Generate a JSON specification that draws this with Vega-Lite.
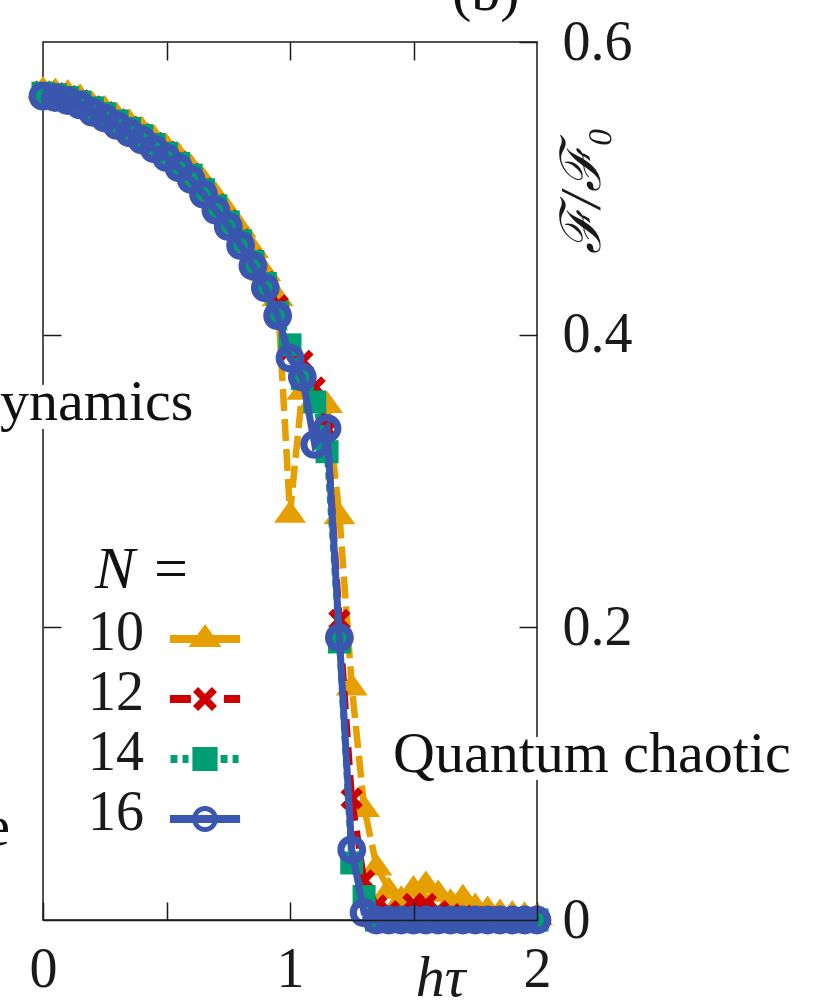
{
  "$schema": "https://vega.github.io/schema/vega-lite/v6.json",
  "width": 494,
  "height": 878,
  "autosize": {"type": "none"},
  "padding": {"left": 43, "top": 42, "right": 282, "bottom": 87},
  "background": "white",
  "config": {
    "view": {"stroke": "#1a1a1a", "strokeWidth": 1.5},
    "font": "Liberation Serif"
  },
  "datasets": {
    "d": [
      {"N":"10","h":0,"F":0.568},{"N":"10","h":0.05,"F":0.567},{"N":"10","h":0.1,"F":0.566},{"N":"10","h":0.15,"F":0.563},{"N":"10","h":0.2,"F":0.558},{"N":"10","h":0.25,"F":0.555},{"N":"10","h":0.3,"F":0.55},{"N":"10","h":0.35,"F":0.546},{"N":"10","h":0.4,"F":0.541},{"N":"10","h":0.45,"F":0.535},{"N":"10","h":0.5,"F":0.529},{"N":"10","h":0.55,"F":0.523},{"N":"10","h":0.6,"F":0.515},{"N":"10","h":0.65,"F":0.506},{"N":"10","h":0.7,"F":0.496},{"N":"10","h":0.75,"F":0.485},{"N":"10","h":0.8,"F":0.473},{"N":"10","h":0.85,"F":0.459},{"N":"10","h":0.9,"F":0.443},{"N":"10","h":0.95,"F":0.426},{"N":"10","h":1,"F":0.278},{"N":"10","h":1.05,"F":0.362},{"N":"10","h":1.1,"F":0.356},{"N":"10","h":1.15,"F":0.353},{"N":"10","h":1.2,"F":0.277},{"N":"10","h":1.25,"F":0.16},{"N":"10","h":1.3,"F":0.077},{"N":"10","h":1.35,"F":0.037},{"N":"10","h":1.4,"F":0.021},{"N":"10","h":1.45,"F":0.015},{"N":"10","h":1.5,"F":0.022},{"N":"10","h":1.55,"F":0.025},{"N":"10","h":1.6,"F":0.019},{"N":"10","h":1.65,"F":0.013},{"N":"10","h":1.7,"F":0.016},{"N":"10","h":1.75,"F":0.01},{"N":"10","h":1.8,"F":0.008},{"N":"10","h":1.85,"F":0.006},{"N":"10","h":1.9,"F":0.005},{"N":"10","h":1.95,"F":0.004},{"N":"10","h":2,"F":0.003},
      {"N":"12","h":0,"F":0.566},{"N":"12","h":0.05,"F":0.565},{"N":"12","h":0.1,"F":0.563},{"N":"12","h":0.15,"F":0.56},{"N":"12","h":0.2,"F":0.556},{"N":"12","h":0.25,"F":0.552},{"N":"12","h":0.3,"F":0.547},{"N":"12","h":0.35,"F":0.542},{"N":"12","h":0.4,"F":0.537},{"N":"12","h":0.45,"F":0.531},{"N":"12","h":0.5,"F":0.525},{"N":"12","h":0.55,"F":0.518},{"N":"12","h":0.6,"F":0.51},{"N":"12","h":0.65,"F":0.5},{"N":"12","h":0.7,"F":0.489},{"N":"12","h":0.75,"F":0.478},{"N":"12","h":0.8,"F":0.465},{"N":"12","h":0.85,"F":0.451},{"N":"12","h":0.9,"F":0.436},{"N":"12","h":0.95,"F":0.42},{"N":"12","h":1,"F":0.39},{"N":"12","h":1.05,"F":0.382},{"N":"12","h":1.1,"F":0.364},{"N":"12","h":1.15,"F":0.335},{"N":"12","h":1.2,"F":0.205},{"N":"12","h":1.25,"F":0.083},{"N":"12","h":1.3,"F":0.027},{"N":"12","h":1.35,"F":0.01},{"N":"12","h":1.4,"F":0.006},{"N":"12","h":1.45,"F":0.005},{"N":"12","h":1.5,"F":0.011},{"N":"12","h":1.55,"F":0.011},{"N":"12","h":1.6,"F":0.006},{"N":"12","h":1.65,"F":0.004},{"N":"12","h":1.7,"F":0.003},{"N":"12","h":1.75,"F":0.002},{"N":"12","h":1.8,"F":0.002},{"N":"12","h":1.85,"F":0.001},{"N":"12","h":1.9,"F":0.001},{"N":"12","h":1.95,"F":0.001},{"N":"12","h":2,"F":0.001},
      {"N":"14","h":0,"F":0.565},{"N":"14","h":0.05,"F":0.564},{"N":"14","h":0.1,"F":0.562},{"N":"14","h":0.15,"F":0.559},{"N":"14","h":0.2,"F":0.555},{"N":"14","h":0.25,"F":0.551},{"N":"14","h":0.3,"F":0.546},{"N":"14","h":0.35,"F":0.541},{"N":"14","h":0.4,"F":0.536},{"N":"14","h":0.45,"F":0.53},{"N":"14","h":0.5,"F":0.524},{"N":"14","h":0.55,"F":0.517},{"N":"14","h":0.6,"F":0.509},{"N":"14","h":0.65,"F":0.499},{"N":"14","h":0.7,"F":0.488},{"N":"14","h":0.75,"F":0.477},{"N":"14","h":0.8,"F":0.464},{"N":"14","h":0.85,"F":0.45},{"N":"14","h":0.9,"F":0.435},{"N":"14","h":0.95,"F":0.415},{"N":"14","h":1,"F":0.393},{"N":"14","h":1.05,"F":0.37},{"N":"14","h":1.1,"F":0.354},{"N":"14","h":1.15,"F":0.32},{"N":"14","h":1.2,"F":0.19},{"N":"14","h":1.25,"F":0.039},{"N":"14","h":1.3,"F":0.016},{"N":"14","h":1.35,"F":0},{"N":"14","h":1.4,"F":0},{"N":"14","h":1.45,"F":0},{"N":"14","h":1.5,"F":0},{"N":"14","h":1.55,"F":0},{"N":"14","h":1.6,"F":0},{"N":"14","h":1.65,"F":0},{"N":"14","h":1.7,"F":0},{"N":"14","h":1.75,"F":0},{"N":"14","h":1.8,"F":0},{"N":"14","h":1.85,"F":0},{"N":"14","h":1.9,"F":0},{"N":"14","h":1.95,"F":0},{"N":"14","h":2,"F":0},
      {"N":"16","h":0,"F":0.563},{"N":"16","h":0.05,"F":0.562},{"N":"16","h":0.1,"F":0.56},{"N":"16","h":0.15,"F":0.557},{"N":"16","h":0.2,"F":0.552},{"N":"16","h":0.25,"F":0.548},{"N":"16","h":0.3,"F":0.543},{"N":"16","h":0.35,"F":0.538},{"N":"16","h":0.4,"F":0.533},{"N":"16","h":0.45,"F":0.527},{"N":"16","h":0.5,"F":0.521},{"N":"16","h":0.55,"F":0.514},{"N":"16","h":0.6,"F":0.506},{"N":"16","h":0.65,"F":0.496},{"N":"16","h":0.7,"F":0.485},{"N":"16","h":0.75,"F":0.474},{"N":"16","h":0.8,"F":0.461},{"N":"16","h":0.85,"F":0.447},{"N":"16","h":0.9,"F":0.432},{"N":"16","h":0.95,"F":0.413},{"N":"16","h":1,"F":0.384},{"N":"16","h":1.05,"F":0.371},{"N":"16","h":1.1,"F":0.325},{"N":"16","h":1.15,"F":0.336},{"N":"16","h":1.2,"F":0.193},{"N":"16","h":1.25,"F":0.048},{"N":"16","h":1.3,"F":0.005},{"N":"16","h":1.35,"F":0},{"N":"16","h":1.4,"F":0},{"N":"16","h":1.45,"F":0},{"N":"16","h":1.5,"F":0},{"N":"16","h":1.55,"F":0},{"N":"16","h":1.6,"F":0},{"N":"16","h":1.65,"F":0},{"N":"16","h":1.7,"F":0},{"N":"16","h":1.75,"F":0},{"N":"16","h":1.8,"F":0},{"N":"16","h":1.85,"F":0},{"N":"16","h":1.9,"F":0},{"N":"16","h":1.95,"F":0},{"N":"16","h":2,"F":0}
    ]
  },
  "data": {"name": "d"},
  "encoding": {
    "x": {"field": "h", "type": "quantitative", "scale": {"domain": [0, 2]}, "axis": null},
    "y": {"field": "F", "type": "quantitative", "scale": {"domain": [0, 0.6]}, "axis": null}
  },
  "layer": [
    {
      "transform": [{"filter": "datum.N == '10'"}],
      "mark": {"type": "line", "color": "#E69F00", "strokeWidth": 6.5, "strokeDash": [22, 8]},
      "encoding": {
        "x": {"field": "h", "type": "quantitative", "scale": {"domain": [0, 2]},
          "axis": {"orient": "bottom", "values": [0, 0.5, 1, 1.5, 2], "format": ".1~f",
            "labelExpr": "datum.value % 1 == 0 ? datum.label : ''",
            "tickSize": -18, "tickWidth": 1.5, "tickColor": "#1a1a1a",
            "domain": true, "domainColor": "#1a1a1a", "domainWidth": 1.5, "grid": false,
            "labelFont": "Liberation Serif", "labelFontSize": 56, "labelColor": "#1a1a1a",
            "labelPadding": 40, "labelFlush": false, "labelOverlap": false,
            "title": "hτ", "titleFont": "Liberation Serif", "titleFontStyle": "italic", "titleFontWeight": "normal",
            "titleFontSize": 58, "titleColor": "#1a1a1a", "titleX": 397, "titleY": 75,
            "titleAlign": "center", "titleBaseline": "alphabetic", "zindex": 1}},
        "y": {"field": "F", "type": "quantitative", "scale": {"domain": [0, 0.6]},
          "axis": {"orient": "right", "values": [0, 0.2, 0.4, 0.6], "format": ".1~f",
            "tickSize": -18, "tickWidth": 1.5, "tickColor": "#1a1a1a",
            "domain": false, "grid": false,
            "labelFont": "Liberation Serif", "labelFontSize": 56, "labelColor": "#1a1a1a",
            "labelPadding": 43, "labelFlush": false, "labelOverlap": false,
            "title": "ℱ/ℱ₀", "titleFont": "Liberation Serif", "titleFontStyle": "italic", "titleFontWeight": "normal",
            "titleFontSize": 56, "titleColor": "#1a1a1a", "titleAngle": 270, "titleX": 45, "titleY": 148,
            "titleAlign": "center", "titleBaseline": "middle"}}
      }
    },
    {
      "transform": [{"filter": "datum.N == '10'"}],
      "mark": {"type": "point", "filled": true, "opacity": 1, "size": 1024, "strokeWidth": 0, "color": "#E69F00",
        "shape": "M0,-0.8L1,0.6L-1,0.6Z"},
      "encoding": {
        "x": {"field": "h", "type": "quantitative", "scale": {"domain": [0, 2]},
          "axis": {"orient": "top", "values": [0.5, 1, 1.5], "tickSize": -18, "tickWidth": 1.5, "tickColor": "#1a1a1a",
            "domain": false, "labels": false, "grid": false, "title": null}},
        "y": {"field": "F", "type": "quantitative", "scale": {"domain": [0, 0.6]},
          "axis": {"orient": "left", "values": [0.2, 0.4], "tickSize": -18, "tickWidth": 1.5, "tickColor": "#1a1a1a",
            "domain": false, "labels": false, "grid": false, "title": null}}
      }
    },
    {
      "transform": [{"filter": "datum.N == '12'"}],
      "mark": {"type": "line", "color": "#CC0000", "strokeWidth": 6.5, "strokeDash": [18, 10]}
    },
    {
      "transform": [{"filter": "datum.N == '12'"}],
      "mark": {"type": "point", "filled": true, "opacity": 1, "size": 1024, "strokeWidth": 0, "color": "#CC0000",
        "shape": "M-0.7,-0.4L-0.4,-0.7L0,-0.3L0.4,-0.7L0.7,-0.4L0.3,0L0.7,0.4L0.4,0.7L0,0.3L-0.4,0.7L-0.7,0.4L-0.3,0Z"}
    },
    {
      "transform": [{"filter": "datum.N == '14'"}],
      "mark": {"type": "line", "color": "#009E73", "strokeWidth": 6.5, "strokeDash": [7, 5]}
    },
    {
      "transform": [{"filter": "datum.N == '14'"}],
      "mark": {"type": "point", "filled": true, "opacity": 1, "size": 1024, "strokeWidth": 0, "color": "#009E73",
        "shape": "M-0.72,-0.72L0.72,-0.72L0.72,0.72L-0.72,0.72Z"}
    },
    {
      "transform": [{"filter": "datum.N == '16'"}],
      "mark": {"type": "line", "color": "#3B56AE", "strokeWidth": 7}
    },
    {
      "transform": [{"filter": "datum.N == '16'"}],
      "mark": {"type": "point", "filled": true, "opacity": 1, "size": 1024, "strokeWidth": 0, "color": "#3B56AE",
        "shape": "M0.9,0A0.9,0.9,0,1,1,-0.9,0A0.9,0.9,0,1,1,0.9,0ZM0.45,0A0.45,0.45,0,1,0,-0.45,0A0.45,0.45,0,1,0,0.45,0Z"}
    },
    {
      "mark": {"type": "point", "filled": true, "opacity": 0},
      "encoding": {
        "color": {"field": "N", "type": "nominal",
          "scale": {"domain": ["10", "12", "14", "16"], "range": ["#E69F00", "#CC0000", "#009E73", "#3B56AE"]},
          "legend": {"orient": "none", "legendX": 132, "legendY": 567, "title": null,
            "symbolSize": 3600, "symbolStrokeWidth": 0, "symbolOpacity": 1,
            "labelFont": "Liberation Serif", "labelFontSize": 56, "labelColor": "#1a1a1a",
            "labelAlign": "right", "labelBaseline": "middle", "labelOffset": -91, "labelLimit": 0, "rowPadding": 4,
            "encode": {"labels": {"update": {"dy": {"value": -6}}}}}},
        "shape": {"field": "N", "type": "nominal",
          "scale": {"domain": ["10", "12", "14", "16"], "range": [
            "M-1.17,-0.13L1.17,-0.13L1.17,0.13L-1.17,0.13ZM0,-0.5L0.55,0.27L-0.55,0.27Z",
            "M-1.17,-0.13L-0.47,-0.13L-0.47,0.13L-1.17,0.13ZM0.63,-0.13L1.17,-0.13L1.17,0.13L0.63,0.13ZM-0.4,-0.23L-0.23,-0.4L0,-0.17L0.23,-0.4L0.4,-0.23L0.17,0L0.4,0.23L0.23,0.4L0,0.17L-0.23,0.4L-0.4,0.23L-0.17,0Z",
            "M-1.15,-0.13L-0.92,-0.13L-0.92,0.13L-1.15,0.13ZM-0.75,-0.13L-0.55,-0.13L-0.55,0.13L-0.75,0.13ZM-0.42,-0.4L0.42,-0.4L0.42,0.4L-0.42,0.4ZM0.52,-0.13L0.75,-0.13L0.75,0.13L0.52,0.13ZM0.92,-0.13L1.12,-0.13L1.12,0.13L0.92,0.13Z",
            "M-1.17,-0.13L1.17,-0.13L1.17,0.13L-1.17,0.13ZM0.43,0A0.43,0.43,0,1,1,-0.43,0A0.43,0.43,0,1,1,0.43,0ZM0.27,0A0.27,0.27,0,1,0,-0.27,0A0.27,0.27,0,1,0,0.27,0Z"]},
          "legend": {"orient": "none", "legendX": 132, "legendY": 567, "title": null,
            "symbolSize": 3600, "symbolStrokeWidth": 0, "symbolOpacity": 1,
            "labelFont": "Liberation Serif", "labelFontSize": 56, "labelColor": "#1a1a1a",
            "labelAlign": "right", "labelBaseline": "middle", "labelOffset": -91, "labelLimit": 0, "rowPadding": 4,
            "encode": {"labels": {"update": {"dy": {"value": -6}}}}}}
      }
    },
    {
      "transform": [{"filter": "datum.N == '16' && datum.h == 0"}],
      "mark": {"type": "text", "text": "ynamics", "font": "Liberation Serif", "fontSize": 58, "align": "left", "baseline": "alphabetic",
        "fill": "white", "stroke": "white", "strokeWidth": 18, "strokeJoin": "round"},
      "encoding": {"x": {"datum": -0.174}, "y": {"datum": 0.342}}
    },
    {
      "transform": [{"filter": "datum.N == '16' && datum.h == 0"}],
      "mark": {"type": "text", "text": "Quantum chaotic", "font": "Liberation Serif", "fontSize": 58, "align": "left", "baseline": "alphabetic",
        "fill": "white", "stroke": "white", "strokeWidth": 18, "strokeJoin": "round"},
      "encoding": {"x": {"datum": 1.417}, "y": {"datum": 0.101}}
    },
    {
      "transform": [{"filter": "datum.N == '16' && datum.h == 0"}],
      "mark": {"type": "text", "text": "ynamics", "font": "Liberation Serif", "fontSize": 58, "align": "left", "baseline": "alphabetic", "fill": "#111111"},
      "encoding": {"x": {"datum": -0.174}, "y": {"datum": 0.342}}
    },
    {
      "transform": [{"filter": "datum.N == '16' && datum.h == 0"}],
      "mark": {"type": "text", "text": "Quantum chaotic", "font": "Liberation Serif", "fontSize": 58, "align": "left", "baseline": "alphabetic", "fill": "#111111"},
      "encoding": {"x": {"datum": 1.417}, "y": {"datum": 0.101}}
    },
    {
      "transform": [{"filter": "datum.N == '16' && datum.h == 2"}],
      "mark": {"type": "text", "text": "e", "font": "Liberation Serif", "fontSize": 58, "align": "right", "baseline": "alphabetic", "fill": "#111111"},
      "encoding": {"x": {"datum": -0.134}, "y": {"datum": 0.051}}
    },
    {
      "transform": [{"filter": "datum.N == '16' && datum.h == 2"}],
      "mark": {"type": "text", "text": "(b)", "font": "Liberation Serif", "fontSize": 58, "align": "center", "baseline": "alphabetic", "fill": "#111111"},
      "encoding": {"x": {"datum": 1.793}, "y": {"datum": 0.622}}
    },
    {
      "transform": [{"filter": "datum.N == '16' && datum.h == 1"}],
      "mark": {"type": "text", "text": "N =", "font": "Liberation Serif", "fontSize": 60, "fontStyle": "italic", "align": "left", "baseline": "alphabetic", "fill": "#111111"},
      "encoding": {"x": {"datum": 0.211}, "y": {"datum": 0.227}}
    }
  ],
  "resolve": {"axis": {"x": "independent", "y": "independent"}}
}
